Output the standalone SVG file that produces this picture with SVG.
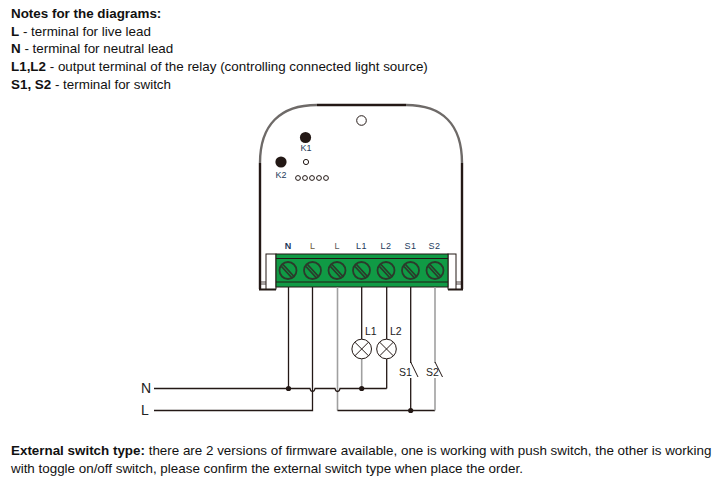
<svg xmlns="http://www.w3.org/2000/svg" width="720" height="494" viewBox="0 0 720 494">
<style>
text{font-family:"Liberation Sans",Arial,sans-serif;fill:#111}
.n{font-size:13.4px}
.b{font-weight:bold}
.w{fill:none;stroke:#231815;stroke-width:1.3}
.g{fill:none;stroke:#a0a0a0;stroke-width:1.6}
.t{font-size:9px;text-anchor:middle;fill:#1d3a5c}
.o{fill:#fff;stroke:#231815;stroke-width:1}
.l{font-size:10.500px;fill:#222}
</style>
<rect width="720" height="494" fill="#fff"/>
<g id="notes">
<text class="n b" x="11" y="18">Notes for the diagrams:</text>
<text class="n" x="11" y="36"><tspan class="b">L</tspan> - terminal for live lead</text>
<text class="n" x="11" y="53"><tspan class="b">N</tspan> - terminal for neutral lead</text>
<text class="n" x="11" y="71"><tspan class="b">L1,L2</tspan> - output terminal of the relay (controlling connected light source)</text>
<text class="n" x="11" y="89"><tspan class="b">S1, S2</tspan> - terminal for switch</text>
</g>
<g id="housing">
<path d="M260 289V163M462 163V289M317 105H406" fill="none" stroke="#231815" stroke-width="2.400"/>
<path d="M260 163C260 125 280 105 317 105M406 105C443 105 462 125 462 163" fill="none" stroke="#6e6a68" stroke-width="2.400"/>
<path d="M259 289.500H276M448 289.500H463" stroke="#231815" stroke-width="1.800" fill="none"/>
<circle cx="361.500" cy="120.500" r="4.800" class="o"/>
<circle cx="305.500" cy="137.500" r="5.600" fill="#231815"/>
<circle cx="281" cy="162" r="5.600" fill="#231815"/>
<circle cx="306" cy="162" r="2.600" class="o"/>
<g class="o"><circle cx="298" cy="178" r="2.400"/><circle cx="305" cy="178" r="2.400"/><circle cx="312" cy="178" r="2.400"/><circle cx="319" cy="178" r="2.400"/><circle cx="326" cy="178" r="2.400"/></g>
<text class="t" x="306" y="151">K1</text>
<text class="t" x="281" y="178">K2</text>
</g>
<g id="terminal-block">
<rect x="266" y="254" width="10" height="35" fill="#fff" stroke="#231815"/>
<rect x="448" y="254" width="8" height="35" fill="#fff" stroke="#231815"/>
<path d="M260 282H266M260 284H266M456 282H463M456 284H463" stroke="#231815" stroke-width=".8"/>
<rect x="276" y="254" width="172" height="33" fill="#109a45" stroke="#231815" stroke-width="1"/>
<path d="M276 258.500H448M276 282H448" stroke="#231815" stroke-width="1.200"/>
<g fill="none" stroke="#2b3a2b" stroke-width="1.800">
<circle cx="288" cy="270.500" r="8.500"/><path d="M283 264.500 294 276.500M281.500 266.500 292 278"/>
<circle cx="312.500" cy="270.500" r="8.500"/><path d="M307.500 264.500 318.500 276.500M306 266.500 316.500 278"/>
<circle cx="337" cy="270.500" r="8.500"/><path d="M332 264.500 343 276.500M330.500 266.500 341 278"/>
<circle cx="361.500" cy="270.500" r="8.500"/><path d="M356.500 264.500 367.500 276.500M355 266.500 365.500 278"/>
<circle cx="386" cy="270.500" r="8.500"/><path d="M381 264.500 392 276.500M379.500 266.500 390 278"/>
<circle cx="410.500" cy="270.500" r="8.500"/><path d="M405.500 264.500 416.500 276.500M404 266.500 414.500 278"/>
<circle cx="435" cy="270.500" r="8.500"/><path d="M430 264.500 441 276.500M428.500 266.500 439 278"/>
</g>
<text class="t" x="288" y="249" style="font-weight:bold">N</text>
<text class="t" x="312.500" y="249" style="fill:#6b5a3a">L</text>
<text class="t" x="337" y="249" style="fill:#5a5a5a">L</text>
<text class="t" x="361.500" y="249" letter-spacing=".5">L1</text>
<text class="t" x="386" y="249" letter-spacing=".5">L2</text>
<text class="t" x="410.500" y="249" letter-spacing=".5">S1</text>
<text class="t" x="434.500" y="249" letter-spacing=".5">S2</text>
</g>
<g id="connectors">
<path class="w" d="M288.500 287V388.500"/>
<path class="w" d="M312.500 287V410.500H154"/>
<path class="g" d="M337.500 287V410.500"/>
<path class="w" d="M337.500 410.500H435"/>
<path class="w" d="M361.700 287V339"/>
<path class="g" d="M361.700 359V388.500"/>
<path class="w" d="M386.700 287V339M386.700 359V388.500"/>
<path class="w" d="M410.700 287V363M410.700 378V410.500"/>
<path class="g" d="M435 287V363M435 378V410.500"/>
<path class="w" d="M154 388.500H310Q310.500 391.500 312.500 391.500Q314.500 391.500 315 388.500H335Q335.500 391.500 337.500 391.500Q339.500 391.500 340 388.500H386.700"/>
<path class="w" d="M410.700 362 418 377M435 362 442.500 377" style="stroke-width:1"/>
<circle cx="288.500" cy="388.500" r="2.600" fill="#231815"/>
<circle cx="361.700" cy="388.500" r="2.600" fill="#231815"/>
<circle cx="410.700" cy="410.500" r="2.600" fill="#231815"/>
</g>
<g id="lamp-L1">
<circle cx="361.700" cy="349" r="9.800" fill="#fff" stroke="#231815"/>
<path d="M354.800 342.100 368.600 355.900M368.600 342.100 354.800 355.900" stroke="#231815"/>
<text class="l" x="365" y="335">L1</text>
</g>
<g id="lamp-L2">
<circle cx="386.500" cy="349" r="9.800" fill="#fff" stroke="#231815"/>
<path d="M379.600 342.100 393.400 355.900M393.400 342.100 379.600 355.900" stroke="#231815"/>
<text class="l" x="390" y="335">L2</text>
</g>
<g id="switch-labels">
<text class="l" x="399" y="376">S1</text>
<text class="l" x="426" y="376">S2</text>
</g>
<g id="line-labels">
<text x="141" y="393" font-size="14" style="fill:#222">N</text>
<text x="141" y="415" font-size="14" style="fill:#222">L</text>
</g>
<g id="footer">
<text class="n" x="11" y="455"><tspan class="b">External switch type:</tspan> there are 2 versions of firmware available, one is working with push switch, the other is working</text>
<text class="n" x="11" y="473">with toggle on/off switch, please confirm the external switch type when place the order.</text>
</g>
</svg>
